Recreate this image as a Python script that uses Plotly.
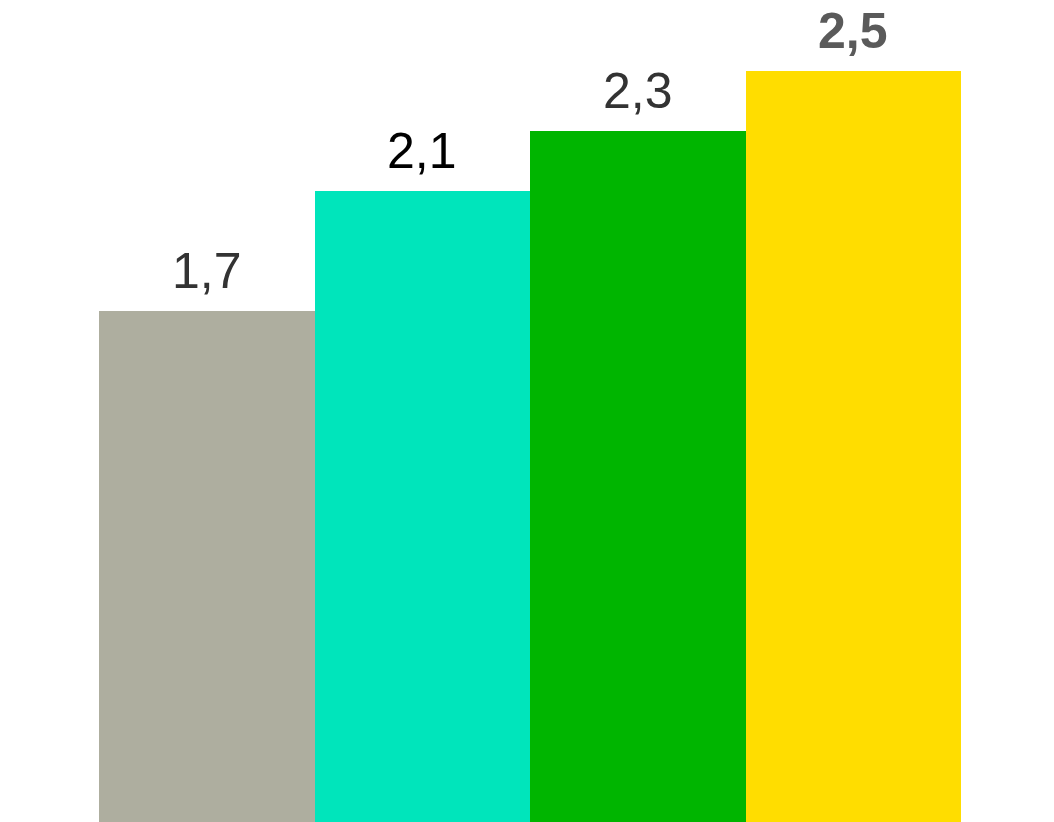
import plotly.graph_objects as go

# Data
categories = ["A", "B", "C", "D"]
values = [1.7, 2.1, 2.3, 2.5]
labels = ["1,7", "2,1", "2,3", "<b>2,5</b>"]

bar_colors = ["#AEAE9F", "#00E5BB", "#00B500", "#FFDD00"]
label_colors = ["#333333", "#000000", "#333333", "#5A5A5A"]

fig = go.Figure(
    go.Bar(
        x=categories,
        y=values,
        marker=dict(color=bar_colors, line=dict(width=0)),
        hoverinfo="skip",
    )
)

# Value labels above each bar
for cat, val, txt, col in zip(categories, values, labels, label_colors):
    fig.add_annotation(
        x=cat,
        y=val,
        text=txt,
        showarrow=False,
        xanchor="center",
        yanchor="bottom",
        yshift=10,
        font=dict(family="Liberation Sans, Arial, sans-serif", size=50, color=col),
    )

fig.update_layout(
    width=1054,
    height=822,
    margin=dict(l=99, r=93, t=0, b=0),
    paper_bgcolor="white",
    plot_bgcolor="white",
    bargap=0,
    showlegend=False,
    xaxis=dict(visible=False, range=[-0.5, 3.5]),
    yaxis=dict(visible=False, range=[0, 822 / 300.6]),
)

fig.write_html("out.html")
